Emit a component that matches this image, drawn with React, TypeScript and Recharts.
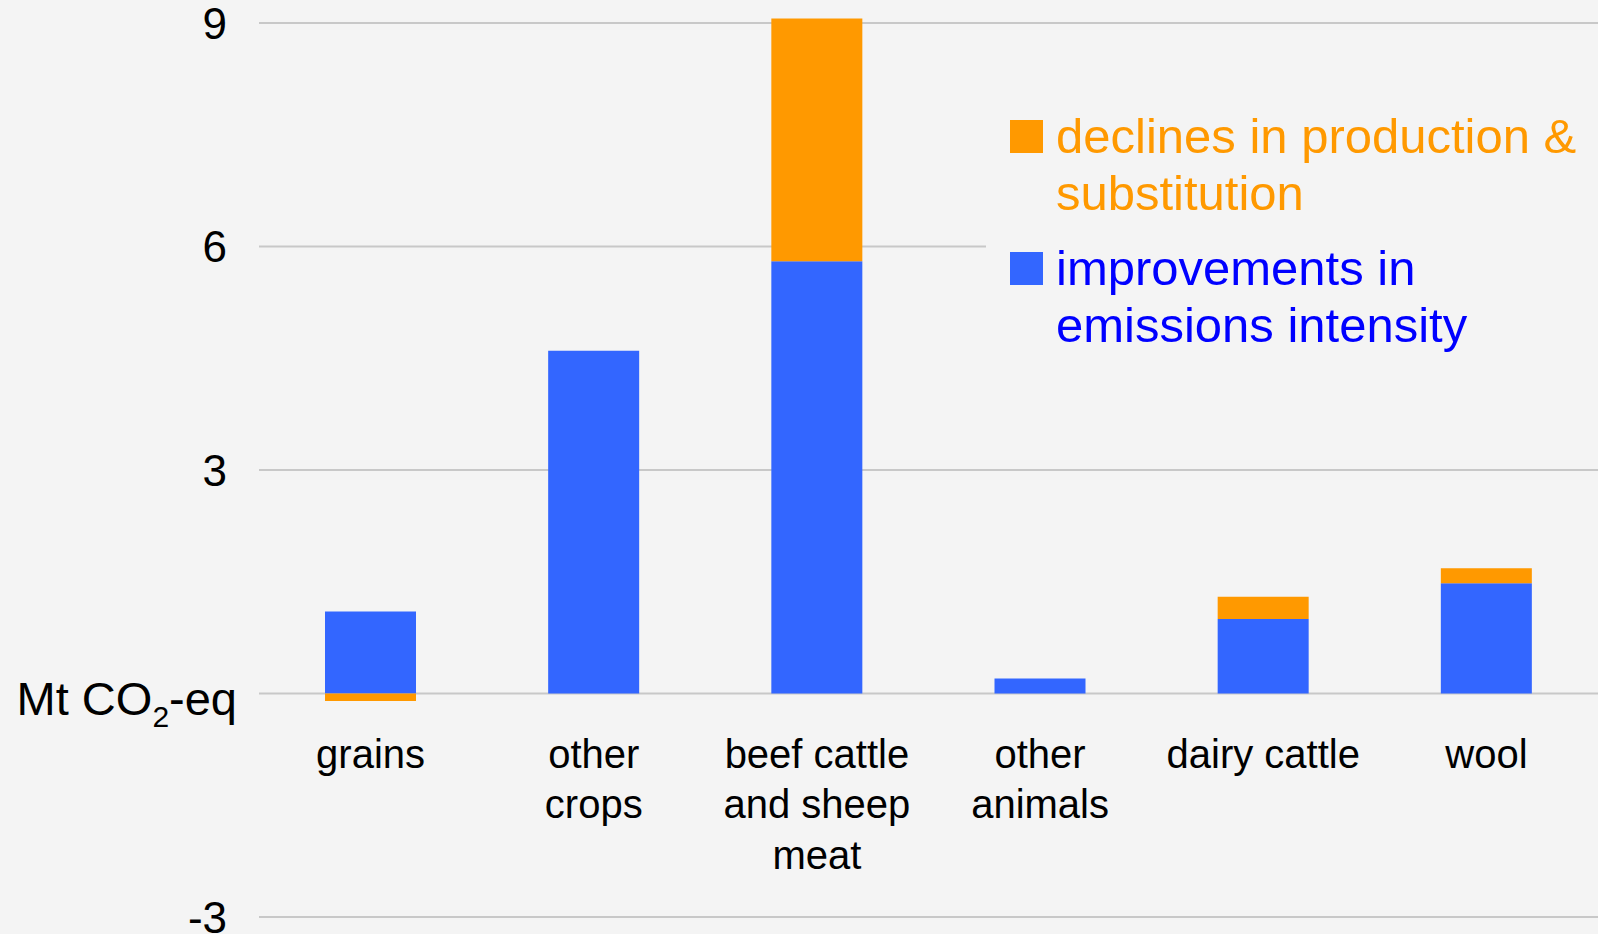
import React from "react";
import { BarChart, Bar, XAxis, YAxis, CartesianGrid, Legend } from "recharts";

const categories = ["grains", "other crops", "beef cattle and sheep meat", "other animals", "dairy cattle", "wool"];
const categoryLabelLines = [["grains"], ["other", "crops"], ["beef cattle", "and sheep", "meat"], ["other", "animals"], ["dairy cattle"], ["wool"]];
const improvements = [1.1, 4.6, 5.8, 0.2, 1.0, 1.48];
const declines = [-0.1, 0, 3.26, 0, 0.3, 0.2];
const yTicks = [-3, 0, 3, 6, 9];
const seriesNames = { improvements: "improvements in emissions intensity", declines: "declines in production & substitution" };
const legendOrder = ["declines", "improvements"];
const legendLines: Record<string, string[]> = {
  declines: ["declines in production &", "substitution"],
  improvements: ["improvements in", "emissions intensity"],
};

const data = categories.map((c, i) => ({
  category: c,
  improvements: improvements[i],
  declines: declines[i],
}));

const W = 1598;
const H = 934;
const M_TOP = 15.5;
const M_BOTTOM = 0;
const X_AXIS_H = 17;
const Y_MIN = -3;
const Y_MAX = 9.1;
const PLOT_H = H - M_TOP - M_BOTTOM - X_AXIS_H;
const ZERO_Y = M_TOP + (PLOT_H * (Y_MAX - 0)) / (Y_MAX - Y_MIN);

const FONT = "'Liberation Sans', Arial, Helvetica, sans-serif";
const BLUE = "#3366FF";
const ORANGE = "#FF9900";

const YTick = (props: any) => {
  const { y, payload } = props;
  if (payload.value === 0) {
    return (
      <text x={237} y={y + 22} textAnchor="end" fontFamily={FONT} fontSize={47} fill="#000">
        <tspan>Mt CO</tspan>
        <tspan fontSize={30} dy={12}>2</tspan>
        <tspan dy={-12}>-eq</tspan>
      </text>
    );
  }
  return (
    <text x={227} y={y} dy="0.355em" textAnchor="end" fontFamily={FONT} fontSize={44} fill="#000">
      {payload.value}
    </text>
  );
};

const XTick = (props: any) => {
  const { x, index } = props;
  const lines = categoryLabelLines[index] || [];
  return (
    <text x={x} y={ZERO_Y + 74.5} textAnchor="middle" fontFamily={FONT} fontSize={40} fill="#000">
      {lines.map((l, i) => (
        <tspan key={i} x={x} dy={i === 0 ? 0 : 50.5}>
          {l}
        </tspan>
      ))}
    </text>
  );
};

const LegendContent = (props: any) => {
  const payload = [...(props.payload || [])].sort(
    (a: any, b: any) => legendOrder.indexOf(a.dataKey) - legendOrder.indexOf(b.dataKey)
  );
  return (
    <div style={{ background: "#f4f4f4", width: 612, height: 280, paddingTop: 18.3, boxSizing: "border-box" }}>
      {payload.map((p: any, i: number) => {
        const key = p.dataKey as string;
        const color = key === "declines" ? ORANGE : "#0000FF";
        return (
          <div key={key} style={{ display: "flex", alignItems: "flex-start", marginTop: i === 0 ? 0 : 18 }}>
            <div style={{ width: 33, height: 33, background: p.color, marginLeft: 24, marginTop: 11.7, flex: "none" }} />
            <div style={{ marginLeft: 13, fontFamily: FONT, fontSize: 49, lineHeight: "57px", color, whiteSpace: "nowrap" }}>
              {(legendLines[key] || [p.value]).map((l, j) => (
                <div key={j}>{l}</div>
              ))}
            </div>
          </div>
        );
      })}
    </div>
  );
};

const gridCoords = (props: any) => {
  const off = props?.offset || {};
  const top = typeof off.top === "number" ? off.top : M_TOP;
  const h = typeof off.height === "number" ? off.height : PLOT_H;
  return yTicks.map((v) => top + (h * (Y_MAX - v)) / (Y_MAX - Y_MIN));
};

export default function App() {
  return (
    <div style={{ position: "fixed", left: 0, top: 0, width: W, height: H, background: "#f4f4f4", overflow: "hidden" }}>
      <BarChart
        width={W}
        height={H}
        data={data}
        stackOffset="sign"
        margin={{ top: M_TOP, right: 0, bottom: M_BOTTOM, left: 0 }}
        barSize={91}
      >
        <CartesianGrid vertical={false} stroke="#c8c8c8" strokeWidth={2} horizontalCoordinatesGenerator={gridCoords} />
        <YAxis
          type="number"
          domain={[Y_MIN, Y_MAX]}
          allowDataOverflow
          ticks={yTicks}
          axisLine={false}
          tickLine={false}
          width={259}
          tick={<YTick />}
          interval={0}
        />
        <XAxis
          dataKey="category"
          axisLine={false}
          tickLine={false}
          height={X_AXIS_H}
          interval={0}
          tick={<XTick />}
        />
        <Legend
          layout="vertical"
          verticalAlign="middle"
          align="center"
          content={<LegendContent />}
          wrapperStyle={{ position: "absolute", left: 986, top: 90, width: 612, height: 280 }}
        />
        <Bar dataKey="improvements" name={seriesNames.improvements} stackId="a" fill={BLUE} isAnimationActive={false} />
        <Bar dataKey="declines" name={seriesNames.declines} stackId="a" fill={ORANGE} isAnimationActive={false} />
      </BarChart>
    </div>
  );
}
